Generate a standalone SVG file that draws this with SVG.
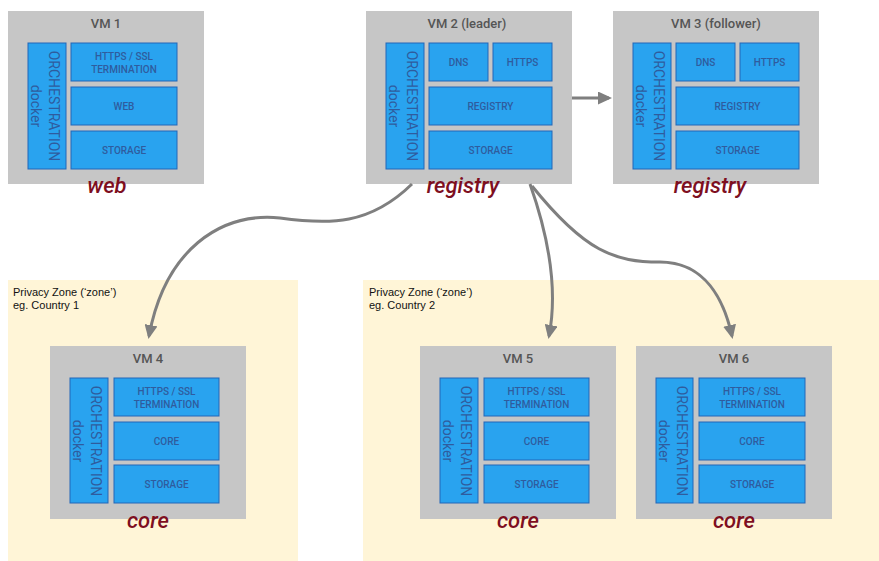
<svg xmlns="http://www.w3.org/2000/svg" width="879" height="561" viewBox="0 0 879 561">
<defs>
<style>
.zone{fill:#fff5d7}
.vm{fill:#c6c6c6}
.blue{fill:#29a3ef;stroke:#2266b8;stroke-width:1}
.bt{font-family:Roboto,"Liberation Sans",sans-serif;font-size:10px;font-weight:500;fill:#2f5c9e;text-anchor:middle}
.ot{font-family:Roboto,"Liberation Sans",sans-serif;font-size:14px;fill:#2f5c9e;text-anchor:middle}
.title{font-family:Roboto,"Liberation Sans",sans-serif;font-size:13px;font-weight:500;fill:#555555;text-anchor:middle}
.lbl{font-family:Roboto,"Liberation Sans",sans-serif;font-size:22px;font-weight:500;font-style:italic;fill:#7e0f1f;text-anchor:middle}
.zt{font-family:"Liberation Sans",Arial,sans-serif;font-size:11px;fill:#111111}
.conn{fill:none;stroke:#7f7f7f;stroke-width:3}
</style>
<marker id="ah" markerUnits="userSpaceOnUse" markerWidth="14" markerHeight="13" refX="11" refY="6.5" orient="auto">
<path d="M0,0 L14,6.5 L0,13 z" fill="#7f7f7f"/>
</marker>
</defs>
<rect width="879" height="561" fill="#ffffff"/>

<g id="zone1">
<rect class="zone" x="8" y="280" width="290" height="281"/>
<text class="zt" x="13" y="296">Privacy Zone (‘zone’)</text>
<text class="zt" x="13" y="309">eg. Country 1</text>
</g>
<g id="zone2">
<rect class="zone" x="363" y="280" width="516" height="281"/>
<text class="zt" x="369" y="296">Privacy Zone (‘zone’)</text>
<text class="zt" x="369" y="309">eg. Country 2</text>
</g>

<g id="vm1" transform="translate(8,11)">
<rect class="vm" x="0" y="0" width="196" height="173"/>
<text class="title" x="98" y="17">VM 1</text>
<rect class="blue" x="20" y="32" width="38" height="126"/>
<g transform="translate(39,95) rotate(90)"><text class="ot" x="0" y="-2">ORCHESTRATION</text><text class="ot" x="0" y="16">docker</text></g>
<rect class="blue" x="63" y="32" width="106" height="38"/>
<text class="bt" x="116" y="49">HTTPS / SSL</text>
<text class="bt" x="116" y="62">TERMINATION</text>
<rect class="blue" x="63" y="76" width="106" height="38"/>
<text class="bt" x="116" y="98.5">WEB</text>
<rect class="blue" x="63" y="120" width="106" height="38"/>
<text class="bt" x="116" y="142.5">STORAGE</text>
<text class="lbl" x="99" y="182">web</text>
</g>

<g id="vm2" transform="translate(366,11)">
<rect class="vm" x="0" y="0" width="206" height="173"/>
<text class="title" x="101" y="17">VM 2 (leader)</text>
<rect class="blue" x="20" y="32" width="38" height="126"/>
<g transform="translate(39,95) rotate(90)"><text class="ot" x="0" y="-2">ORCHESTRATION</text><text class="ot" x="0" y="16">docker</text></g>
<rect class="blue" x="63" y="32" width="59" height="38"/>
<text class="bt" x="92.5" y="54.5">DNS</text>
<rect class="blue" x="127" y="32" width="59" height="38"/>
<text class="bt" x="156.5" y="54.5">HTTPS</text>
<rect class="blue" x="63" y="76" width="123" height="38"/>
<text class="bt" x="124.5" y="98.5">REGISTRY</text>
<rect class="blue" x="63" y="120" width="123" height="38"/>
<text class="bt" x="124.5" y="142.5">STORAGE</text>
<text class="lbl" x="97" y="182">registry</text>
</g>

<g id="vm3" transform="translate(613,11)">
<rect class="vm" x="0" y="0" width="206" height="173"/>
<text class="title" x="103" y="17">VM 3 (follower)</text>
<rect class="blue" x="20" y="32" width="38" height="126"/>
<g transform="translate(39,95) rotate(90)"><text class="ot" x="0" y="-2">ORCHESTRATION</text><text class="ot" x="0" y="16">docker</text></g>
<rect class="blue" x="63" y="32" width="59" height="38"/>
<text class="bt" x="92.5" y="54.5">DNS</text>
<rect class="blue" x="127" y="32" width="59" height="38"/>
<text class="bt" x="156.5" y="54.5">HTTPS</text>
<rect class="blue" x="63" y="76" width="123" height="38"/>
<text class="bt" x="124.5" y="98.5">REGISTRY</text>
<rect class="blue" x="63" y="120" width="123" height="38"/>
<text class="bt" x="124.5" y="142.5">STORAGE</text>
<text class="lbl" x="97" y="182">registry</text>
</g>

<g id="vm4" transform="translate(50,346)">
<rect class="vm" x="0" y="0" width="196" height="173"/>
<text class="title" x="98" y="17">VM 4</text>
<rect class="blue" x="20" y="32" width="38" height="125"/>
<g transform="translate(39,95) rotate(90)"><text class="ot" x="0" y="-2">ORCHESTRATION</text><text class="ot" x="0" y="16">docker</text></g>
<rect class="blue" x="64" y="32" width="105" height="38"/>
<text class="bt" x="116.5" y="49">HTTPS / SSL</text>
<text class="bt" x="116.5" y="62">TERMINATION</text>
<rect class="blue" x="64" y="76" width="105" height="38"/>
<text class="bt" x="116.5" y="98.5">CORE</text>
<rect class="blue" x="64" y="119" width="105" height="38"/>
<text class="bt" x="116.5" y="141.5">STORAGE</text>
<text class="lbl" x="98" y="182">core</text>
</g>

<g id="vm5" transform="translate(420,346)">
<rect class="vm" x="0" y="0" width="196" height="173"/>
<text class="title" x="98" y="17">VM 5</text>
<rect class="blue" x="20" y="32" width="38" height="125"/>
<g transform="translate(39,95) rotate(90)"><text class="ot" x="0" y="-2">ORCHESTRATION</text><text class="ot" x="0" y="16">docker</text></g>
<rect class="blue" x="64" y="32" width="105" height="38"/>
<text class="bt" x="116.5" y="49">HTTPS / SSL</text>
<text class="bt" x="116.5" y="62">TERMINATION</text>
<rect class="blue" x="64" y="76" width="105" height="38"/>
<text class="bt" x="116.5" y="98.5">CORE</text>
<rect class="blue" x="64" y="119" width="105" height="38"/>
<text class="bt" x="116.5" y="141.5">STORAGE</text>
<text class="lbl" x="98" y="182">core</text>
</g>

<g id="vm6" transform="translate(636,346)">
<rect class="vm" x="0" y="0" width="196" height="173"/>
<text class="title" x="98" y="17">VM 6</text>
<rect class="blue" x="20" y="32" width="37" height="125"/>
<g transform="translate(38.5,95) rotate(90)"><text class="ot" x="0" y="-2">ORCHESTRATION</text><text class="ot" x="0" y="16">docker</text></g>
<rect class="blue" x="63" y="32" width="106" height="38"/>
<text class="bt" x="116" y="49">HTTPS / SSL</text>
<text class="bt" x="116" y="62">TERMINATION</text>
<rect class="blue" x="63" y="76" width="106" height="38"/>
<text class="bt" x="116" y="98.5">CORE</text>
<rect class="blue" x="63" y="119" width="106" height="38"/>
<text class="bt" x="116" y="141.5">STORAGE</text>
<text class="lbl" x="98" y="182">core</text>
</g>

<g id="connectors">
<path class="conn" d="M572,98 L609,98" marker-end="url(#ah)"/>
<path class="conn" d="M412,184 C370,225 330,225 280,218 C220,212 165,250 149,336" marker-end="url(#ah)"/>
<path class="conn" d="M530,184 C548,235 558,290 549,336" marker-end="url(#ah)"/>
<path class="conn" d="M532,186 C585,252 615,262 660,262 C705,262 724,300 732,336" marker-end="url(#ah)"/>
</g>
</svg>
